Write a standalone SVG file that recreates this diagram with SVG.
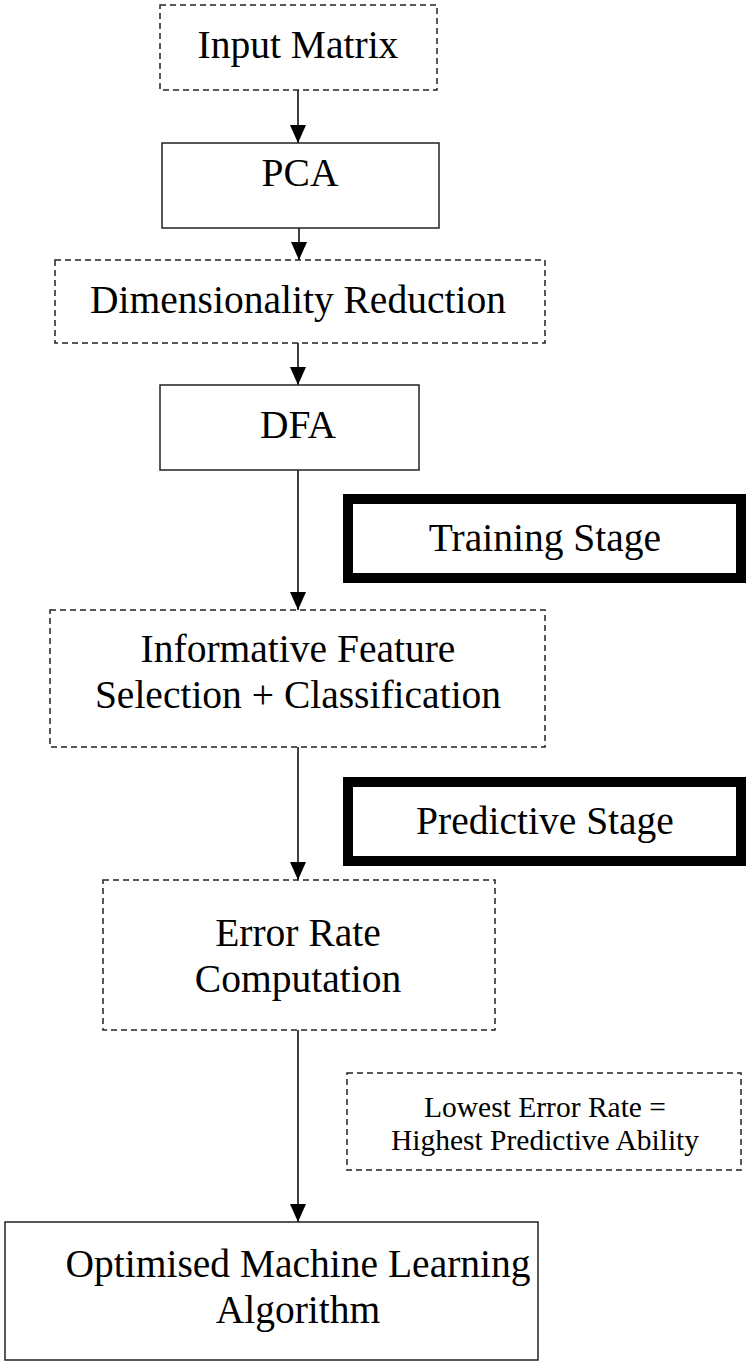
<svg xmlns="http://www.w3.org/2000/svg" width="750" height="1366" viewBox="0 0 750 1366">
<style>
.box{fill:#fff;stroke:#222;stroke-width:1.5}
.dash{fill:#fff;stroke:#222;stroke-width:1.5;stroke-dasharray:6 4}
.thick{fill:#fff;stroke:#000;stroke-width:10}
.t{font-family:"Liberation Serif","Times New Roman",serif;font-size:39.5px;fill:#000;text-anchor:middle}
.s{font-family:"Liberation Serif","Times New Roman",serif;font-size:29.5px;fill:#000;text-anchor:middle}
.c{stroke:#000;stroke-width:1.5;fill:none;marker-end:url(#ah)}
</style>
<defs>
<marker id="ah" markerUnits="userSpaceOnUse" markerWidth="18" markerHeight="18" refX="18" refY="8" orient="auto">
<path d="M0,0 L18,8 L0,16 Z" fill="#000"/>
</marker>
</defs>
<rect width="750" height="1366" fill="#fff"/>
<g id="connectors">
<line class="c" x1="298" y1="90" x2="298" y2="143"/>
<line class="c" x1="299" y1="228" x2="299" y2="260"/>
<line class="c" x1="298" y1="343" x2="298" y2="385"/>
<line class="c" x1="298" y1="470" x2="298" y2="610"/>
<line class="c" x1="298" y1="747" x2="298" y2="880"/>
<line class="c" x1="298" y1="1030" x2="298" y2="1222"/>
</g>
<g id="input-matrix">
<rect class="dash" x="160" y="5" width="277" height="85"/>
<text class="t" x="298" y="58">Input Matrix</text>
</g>
<g id="pca">
<rect class="box" x="162" y="143" width="277" height="85"/>
<text class="t" x="300" y="186">PCA</text>
</g>
<g id="dimensionality-reduction">
<rect class="dash" x="55" y="260" width="490" height="83"/>
<text class="t" x="298" y="313">Dimensionality Reduction</text>
</g>
<g id="dfa">
<rect class="box" x="160" y="385" width="259" height="85"/>
<text class="t" x="298" y="438">DFA</text>
</g>
<g id="training-stage">
<rect class="thick" x="348" y="499" width="393" height="79"/>
<text class="t" x="545" y="551">Training Stage</text>
</g>
<g id="feature-selection">
<rect class="dash" x="50" y="610" width="495" height="137"/>
<text class="t" x="298" y="662">Informative Feature</text>
<text class="t" x="298" y="708">Selection + Classification</text>
</g>
<g id="predictive-stage">
<rect class="thick" x="348" y="782" width="393" height="79"/>
<text class="t" x="545" y="834">Predictive Stage</text>
</g>
<g id="error-rate">
<rect class="dash" x="103" y="880" width="392" height="150"/>
<text class="t" x="298" y="946">Error Rate</text>
<text class="t" x="298" y="992">Computation</text>
</g>
<g id="lowest-error-note">
<rect class="dash" x="347" y="1073" width="394" height="97"/>
<text class="s" x="545" y="1117">Lowest Error Rate =</text>
<text class="s" x="545" y="1150">Highest Predictive Ability</text>
</g>
<g id="optimised-algorithm">
<rect class="box" x="5" y="1222" width="533" height="138"/>
<text class="t" x="298" y="1277">Optimised Machine Learning</text>
<text class="t" x="298" y="1323">Algorithm</text>
</g>
</svg>
